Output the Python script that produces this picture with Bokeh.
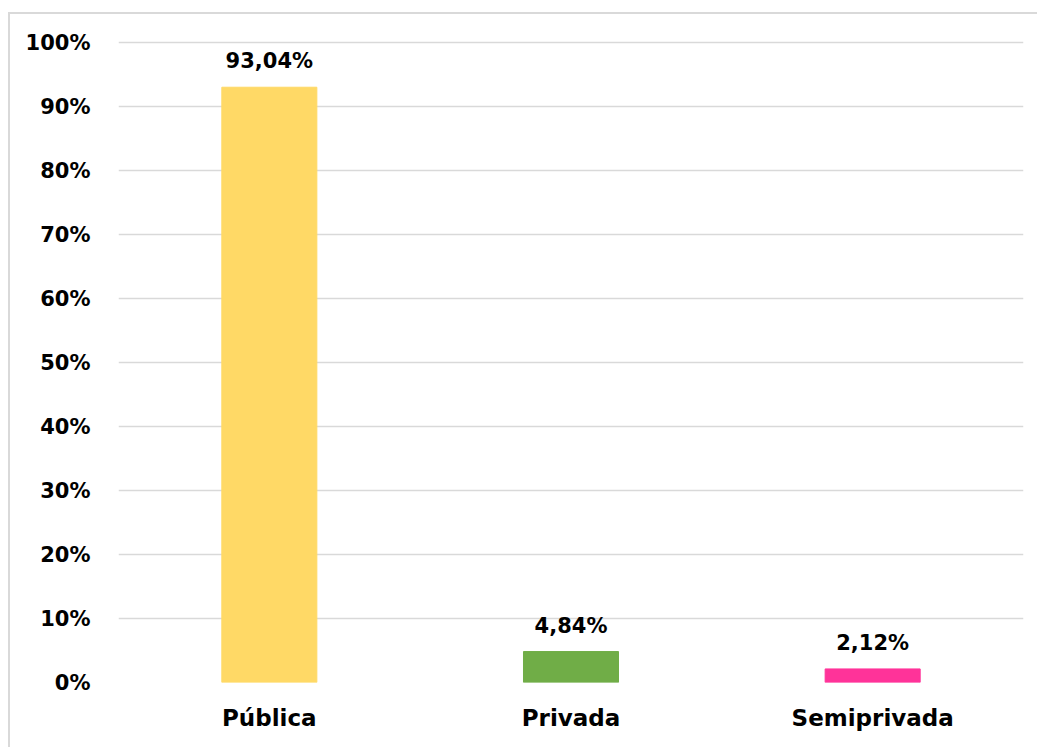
from bokeh.plotting import figure
from bokeh.models import ColumnDataSource, FixedTicker, CustomJSTickFormatter, InlineStyleSheet
from bokeh.core.properties import value
from bokeh.embed import file_html
from bokeh.resources import INLINE

categories = ["Pública", "Privada", "Semiprivada"]
values = [93.04, 4.84, 2.12]
colors = ["#FFD966", "#70AD47", "#FF3399"]
y_ticks = [0, 10, 20, 30, 40, 50, 60, 70, 80, 90, 100]

labels = [f"{v:.2f}".replace(".", ",") + "%" for v in values]
src = ColumnDataSource(dict(cat=categories, val=values, color=colors, label=labels))

FONT = "DejaVu Sans"
W, H = 1037, 747
p = figure(x_range=categories, y_range=(0, 100.5), width=W, height=H,
           output_backend="svg", toolbar_location=None,
           min_border_left=118, min_border_right=14, min_border_top=39, min_border_bottom=65)

p.vbar(x="cat", top="val", width=0.315, color="color", source=src)
p.text(x="cat", y="val", text="label", source=src, text_align="center",
       text_baseline="alphabetic", y_offset=-26, text_font=value(FONT),
       text_font_style="bold", text_font_size="21px", text_color="#000000")

p.outline_line_color = None
p.xgrid.grid_line_color = None
p.ygrid.grid_line_color = "#d9d9d9"
p.ygrid.grid_line_width = 1.5
p.yaxis.ticker = FixedTicker(ticks=y_ticks)
p.yaxis.formatter = CustomJSTickFormatter(code="return tick.toFixed(0) + '%';")
for ax in (p.xaxis, p.yaxis):
    ax.axis_line_color = None
    ax.major_tick_line_color = None
    ax.minor_tick_line_color = None
    ax.major_label_text_font = FONT
    ax.major_label_text_font_style = "bold"
    ax.major_label_text_color = "#000000"
p.yaxis.major_label_text_font_size = "21px"
p.xaxis.major_label_text_font_size = "23px"
p.yaxis.major_label_standoff = 22
p.xaxis.major_label_standoff = 16

p.stylesheets = [InlineStyleSheet(css="""
:host { position: relative; }
:host::after {
  content: ''; position: absolute; left: 8px; top: 12px; right: 0; bottom: 0;
  border-left: 2px solid #d9d9d9; border-top: 2px solid #d9d9d9;
  pointer-events: none; box-sizing: border-box;
}
""")]

open("out.html", "w").write(file_html(p, INLINE))
